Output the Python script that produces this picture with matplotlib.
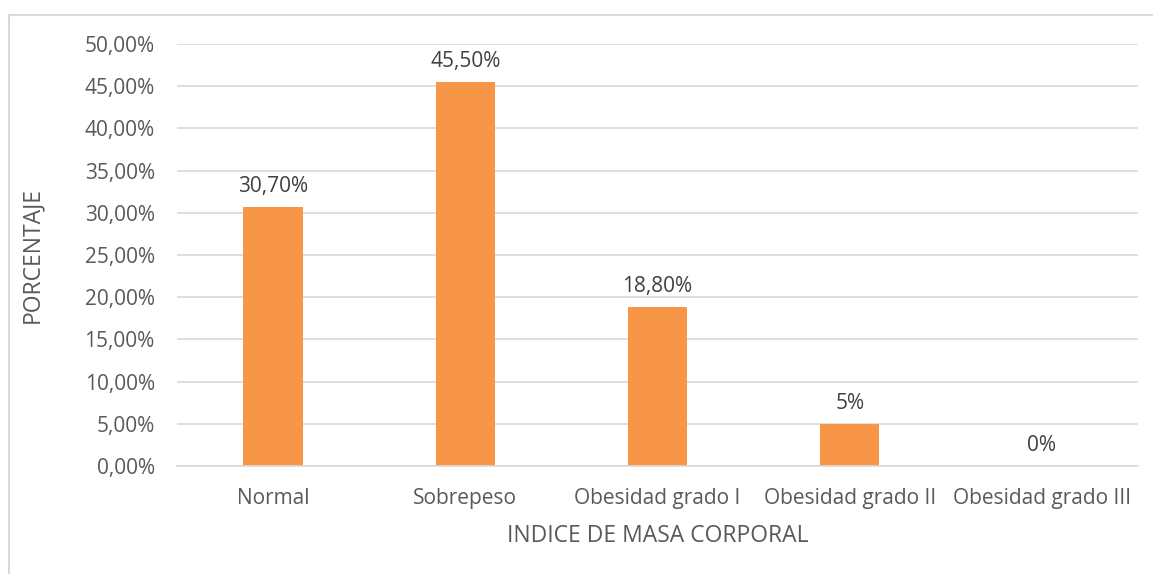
import matplotlib
matplotlib.use("Agg")
import matplotlib.pyplot as plt
from matplotlib.lines import Line2D
from matplotlib.ticker import FuncFormatter

categories = ["Normal", "Sobrepeso", "Obesidad grado I", "Obesidad grado II", "Obesidad grado III"]
values = [30.7, 45.5, 18.8, 5.0, 0.0]
value_labels = ["30,70%", "45,50%", "18,80%", "5%", "0%"]
yticks = [0, 5, 10, 15, 20, 25, 30, 35, 40, 45, 50]

plt.rcParams["font.family"] = ["Open Sans", "DejaVu Sans"]

BAR = "#F79646"
GRID = "#D9D9D9"
TICK = "#595959"
LABEL = "#404040"
FS = 15
TITLE_FS = 16.5

fig = plt.figure(figsize=(11.53, 5.74), dpi=100)
ax = fig.add_axes([177 / 1153, 1 - 466 / 574, (1138 - 177) / 1153, (466 - 44) / 574])

x = list(range(len(categories)))
ax.bar(x, values, width=0.31, color=BAR, zorder=2)

for xi, v, lab in zip(x, values, value_labels):
    ax.annotate(lab, (xi, v), xytext=(0, 11), textcoords="offset points",
                ha="center", va="baseline", fontsize=FS, color=LABEL)

ax.set_xlim(-0.5, len(categories) - 0.5)
ax.set_ylim(0, 50)
ax.set_yticks(yticks)
ax.yaxis.set_major_formatter(FuncFormatter(lambda v, _: f"{v:.2f}%".replace(".", ",")))
ax.set_xticks(x)
ax.set_xticklabels(categories)
ax.grid(axis="y", color=GRID, linewidth=1.2, zorder=0)
ax.set_axisbelow(True)
for side in ["top", "right", "left"]:
    ax.spines[side].set_visible(False)
ax.spines["bottom"].set_color(GRID)
ax.spines["bottom"].set_linewidth(1.2)
ax.tick_params(axis="both", length=0, labelsize=FS, colors=TICK)
ax.tick_params(axis="y", pad=16)
ax.tick_params(axis="x", pad=16)

ax.set_xlabel("INDICE DE MASA CORPORAL", fontsize=TITLE_FS, color=TICK)
ax.set_ylabel("PORCENTAJE", fontsize=TITLE_FS, color=TICK)
ax.xaxis.set_label_coords(0.5, -0.137)
ax.yaxis.set_label_coords(-0.138, 0.5)

# chart frame (top and left edges visible in the crop)
fig.add_artist(Line2D([9 / 1153, 9 / 1153], [0, 1 - 15 / 574], color=GRID, linewidth=1.5))
fig.add_artist(Line2D([9 / 1153, 1], [1 - 15 / 574, 1 - 15 / 574], color=GRID, linewidth=1.5))

fig.savefig("out.png", dpi=100)
